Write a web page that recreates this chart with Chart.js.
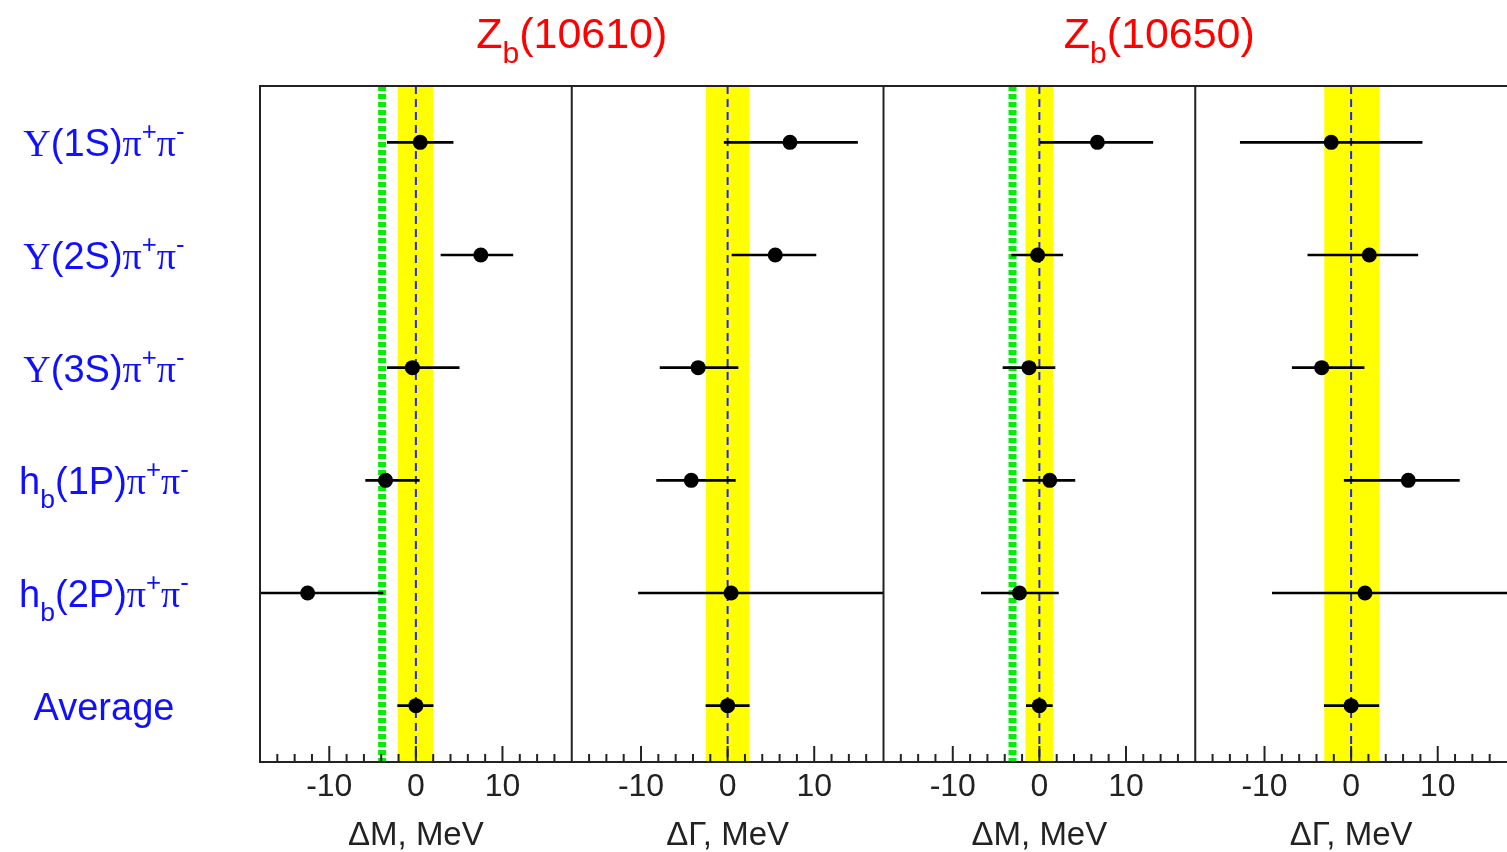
<!DOCTYPE html>
<html>
<head>
<meta charset="utf-8">
<script src="https://cdn.jsdelivr.net/npm/chart.js@4.4.0/dist/chart.umd.min.js"></script>
<style>
  body { margin: 0; background: #fff; }
  #wrap { width: 1507px; height: 852px; }
</style>
</head>
<body>
<div id="wrap"><canvas id="chart" width="1507" height="852"></canvas></div>
<script>
// rows of the plot (ROOT-like markup: ^{} superscript, _{} subscript)
const channels = [
  'Υ(1S)π^{+}π^{-}',
  'Υ(2S)π^{+}π^{-}',
  'Υ(3S)π^{+}π^{-}',
  'h_{b}(1P)π^{+}π^{-}',
  'h_{b}(2P)π^{+}π^{-}',
  'Average'
];
const stateTitles = ['Z_{b}(10610)', 'Z_{b}(10650)'];
const axisTitles = ['ΔM, MeV', 'ΔΓ, MeV', 'ΔM, MeV', 'ΔΓ, MeV'];
const tickLabels = [-10, 0, 10];

// Zb(10610) mass
const zb10610MassVal = [0.5, 7.5, -0.4, -3.5, -12.5, 0.0];
const zb10610MassLo  = [-3.3, 2.9, -3.3, -5.8, -18, -2.1];
const zb10610MassHi  = [4.3, 11.2, 5.0, 0.4, -3.8, 2.0];
// Zb(10610) width
const zb10610WidthVal = [7.2, 5.5, -3.4, -4.2, 0.4, 0.0];
const zb10610WidthLo  = [-0.4, 0.5, -7.8, -8.2, -10.3, -2.5];
const zb10610WidthHi  = [15.0, 10.2, 1.2, 0.9, 18, 2.5];
// Zb(10650) mass
const zb10650MassVal = [6.7, -0.2, -1.2, 1.2, -2.3, 0.0];
const zb10650MassLo  = [0.1, -3.2, -4.2, -1.9, -6.7, -1.5];
const zb10650MassHi  = [13.1, 2.7, 1.8, 4.1, 2.2, 1.5];
// Zb(10650) width
const zb10650WidthVal = [-2.3, 2.1, -3.4, 6.6, 1.6, 0.0];
const zb10650WidthLo  = [-12.8, -5.0, -6.8, -0.8, -9.1, -3.1];
const zb10650WidthHi  = [8.2, 7.7, 1.5, 12.5, 18, 3.2];

// average error band and B(*)B* threshold for each panel
const bandLow  = [-2.1, -2.5, -1.6, -3.1];
const bandHigh = [2.0, 2.5, 1.6, 3.3];
const thresholds = [-3.9, null, -3.1, null];

const panelVals = [zb10610MassVal, zb10610WidthVal, zb10650MassVal, zb10650WidthVal];
const panelLo = [zb10610MassLo, zb10610WidthLo, zb10650MassLo, zb10650WidthLo];
const panelHi = [zb10610MassHi, zb10610WidthHi, zb10650MassHi, zb10650WidthHi];

const SANS = "'Liberation Sans', Arial, sans-serif";
const SERIF = "'Liberation Serif', 'Times New Roman', serif";

Chart.defaults.font.family = SANS;

// draw text with ^{} / _{} markup, centred on cx
function drawRich(ctx, text, cx, baseline, size, color) {
  const parts = text.match(/\^\{[^}]*\}|_\{[^}]*\}|[Υπ]|[^\^_Υπ]+/g);
  const pieces = parts.map(p => {
    if (p[0] === '^') return { t: p.slice(2, -1), font: (size * 0.68) + 'px ' + SANS, dy: -size * 0.42 };
    if (p[0] === '_') return { t: p.slice(2, -1), font: (size * 0.7) + 'px ' + SANS, dy: size * 0.36 };
    if (p === 'Υ' || p === 'π') return { t: p, font: size + 'px ' + SERIF, dy: 0 };
    return { t: p, font: size + 'px ' + SANS, dy: 0 };
  });
  let total = 0;
  pieces.forEach(pc => { ctx.font = pc.font; pc.w = ctx.measureText(pc.t).width; total += pc.w; });
  let x = cx - total / 2;
  ctx.fillStyle = color;
  ctx.textAlign = 'left';
  ctx.textBaseline = 'alphabetic';
  pieces.forEach(pc => { ctx.font = pc.font; ctx.fillText(pc.t, x, baseline + pc.dy); x += pc.w; });
}

const panelDecor = {
  id: 'panelDecor',
  beforeDatasetsDraw(chart) {
    const ctx = chart.ctx;
    const ys = chart.scales.y;
    const top = ys.top, bottom = ys.bottom;
    for (let i = 0; i < 4; i++) {
      const xs = chart.scales['x' + i];
      ctx.save();
      ctx.beginPath();
      ctx.rect(xs.left, top, xs.right - xs.left, bottom - top);
      ctx.clip();
      const b0 = xs.getPixelForValue(bandLow[i]);
      const b1 = xs.getPixelForValue(bandHigh[i]);
      ctx.fillStyle = '#ffff00';
      ctx.fillRect(b0, top, b1 - b0, bottom - top);
      if (thresholds[i] !== null) {
        const gx = xs.getPixelForValue(thresholds[i]);
        ctx.strokeStyle = '#00ee00';
        ctx.lineWidth = 8;
        ctx.setLineDash([5, 3]);
        ctx.beginPath(); ctx.moveTo(gx, top); ctx.lineTo(gx, bottom); ctx.stroke();
      }
      const zx = xs.getPixelForValue(0);
      ctx.strokeStyle = '#2222ff';
      ctx.lineWidth = 2;
      ctx.setLineDash([8, 5]);
      ctx.beginPath(); ctx.moveTo(zx, top); ctx.lineTo(zx, bottom); ctx.stroke();
      ctx.restore();
    }
  },
  afterDatasetsDraw(chart) {
    const ctx = chart.ctx;
    const ys = chart.scales.y;
    const top = ys.top, bottom = ys.bottom;
    ctx.save();
    ctx.strokeStyle = '#222';
    ctx.lineWidth = 2;
    for (let i = 0; i < 4; i++) {
      const xs = chart.scales['x' + i];
      // ticks pointing inwards from the bottom
      xs.ticks.forEach(t => {
        if (t.value <= xs.min || t.value >= xs.max) return;
        const px = xs.getPixelForValue(t.value);
        const len = t.value % 10 === 0 ? 16 : 8;
        ctx.beginPath(); ctx.moveTo(px, bottom); ctx.lineTo(px, bottom - len); ctx.stroke();
      });
      // frame: left, top, bottom (the last panel is cut at the right edge)
      ctx.beginPath();
      ctx.moveTo(xs.right, top);
      ctx.lineTo(xs.left, top);
      ctx.lineTo(xs.left, bottom);
      ctx.lineTo(xs.right, bottom);
      ctx.stroke();
    }
    ctx.restore();
  },
  afterDraw(chart) {
    const ctx = chart.ctx;
    const ys = chart.scales.y;
    ctx.save();
    channels.forEach((c, k) => {
      drawRich(ctx, c, 104, ys.getPixelForValue(k) + 14, 38, '#1010ff');
    });
    drawRich(ctx, stateTitles[0], chart.scales.x1.left, 48, 43, '#ff0000');
    drawRich(ctx, stateTitles[1], chart.scales.x3.left - 36, 48, 43, '#ff0000');
    ctx.restore();
  }
};

const datasets = [];
const scales = {
  y: {
    type: 'category',
    position: 'left',
    offset: true,
    grid: { display: false },
    border: { display: false },
    ticks: { display: false },
    afterFit: s => { s.width = 260; s.paddingTop = 0; s.paddingBottom = 0; }
  }
};

for (let i = 0; i < 4; i++) {
  datasets.push({
    type: 'line',
    label: axisTitles[i],
    data: panelVals[i],
    xAxisID: 'x' + i,
    yAxisID: 'y',
    indexAxis: 'y',
    showLine: false,
    pointRadius: 7.5,
    pointBackgroundColor: '#000',
    pointBorderWidth: 0,
    order: 0
  });
  datasets.push({
    type: 'bar',
    label: axisTitles[i] + ' error',
    data: panelLo[i].map((lo, k) => [lo, panelHi[i][k]]),
    xAxisID: 'x' + i,
    yAxisID: 'y',
    indexAxis: 'y',
    grouped: false,
    barThickness: 2,
    backgroundColor: '#000',
    borderWidth: 0,
    order: 1
  });
  scales['x' + i] = {
    type: 'linear',
    position: 'bottom',
    stack: 'panels',
    stackWeight: 1,
    min: -18,
    max: 18,
    offset: false,
    grid: { display: false, drawTicks: false },
    border: { display: false },
    ticks: {
      stepSize: 2,
      autoSkip: false,
      maxRotation: 0,
      padding: 6,
      color: '#222',
      font: { size: 32 },
      callback: v => tickLabels.includes(v) ? String(v) : ''
    },
    title: {
      display: true,
      text: axisTitles[i],
      color: '#222',
      font: { size: 33, lineHeight: 1.0 },
      padding: { top: 0, bottom: 0 }
    },
    afterFit: s => { s.height = 90; s.paddingLeft = 0; s.paddingRight = 0; }
  };
}

new Chart(document.getElementById('chart'), {
  type: 'bar',
  data: { labels: channels, datasets: datasets },
  options: {
    responsive: false,
    animation: false,
    indexAxis: 'y',
    layout: { autoPadding: false, padding: { top: 86, left: 0, right: 0, bottom: 0 } },
    plugins: { legend: { display: false }, tooltip: { enabled: false } },
    scales: scales
  },
  plugins: [panelDecor]
});
</script>
</body>
</html>
